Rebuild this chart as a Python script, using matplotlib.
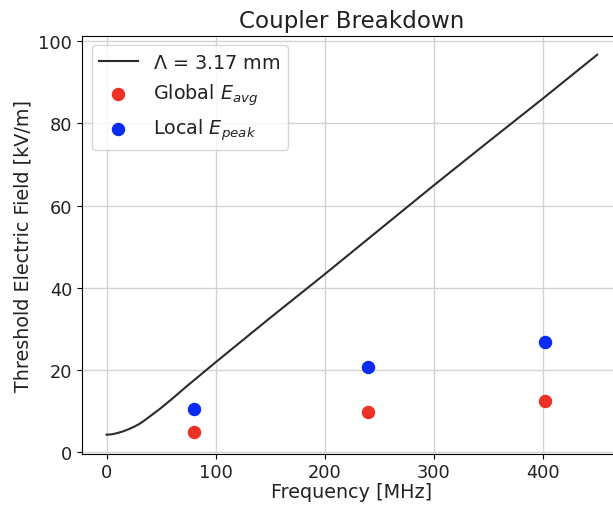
import numpy as np
import matplotlib
matplotlib.use('Agg')
import matplotlib.pyplot as plt

# threshold curve
freq_curve = [0, 5, 10, 15, 20, 25, 30, 35, 40, 50, 60, 75, 100, 125, 150, 175, 200,
              250, 300, 350, 400, 450]
field_curve = [4.3, 4.4, 4.7, 5.1, 5.6, 6.2, 6.9, 7.8, 8.8, 10.8, 13.0, 16.4, 21.9, 27.3,
               32.7, 38.0, 43.3, 54.1, 64.9, 75.5, 86.0, 96.7]

# measured points
freq_pts = [80, 240, 402]
global_avg = [4.9, 9.7, 12.6]
local_peak = [10.5, 20.7, 26.8]

plt.rcParams['text.color'] = '#222222'
plt.rcParams['axes.labelcolor'] = '#222222'
plt.rcParams['xtick.labelcolor'] = '#222222'
plt.rcParams['ytick.labelcolor'] = '#222222'

fig = plt.figure(figsize=(6.13, 5.06), dpi=100)
ax = fig.add_axes([0.1338, 0.1014, 0.8804, 0.826])

ax.plot(freq_curve, field_curve, color='#2b2b2b', lw=1.5, label=r'$\Lambda$ = 3.17 mm')
ax.scatter(freq_pts, global_avg, s=75, color='#ee3124', label=r'Global $E_{avg}$', zorder=3)
ax.scatter(freq_pts, local_peak, s=75, color='#0a2bf5', label=r'Local $E_{peak}$', zorder=3)

ax.grid(True, color='#d3d3d3', lw=1)
ax.set_axisbelow(True)
ax.set_xticks([0, 100, 200, 300, 400])
ax.set_yticks([0, 20, 40, 60, 80, 100])
ax.tick_params(labelsize=12.75)

ax.set_title('Coupler Breakdown', fontsize=16.6)
ax.set_xlabel('Frequency [MHz]', fontsize=13.8, labelpad=0.5)
ax.set_ylabel('Threshold Electric Field [kV/m]', fontsize=13.8)
ax.legend(loc='upper left', fontsize=13.8)

fig.savefig('out.png', dpi=100)
